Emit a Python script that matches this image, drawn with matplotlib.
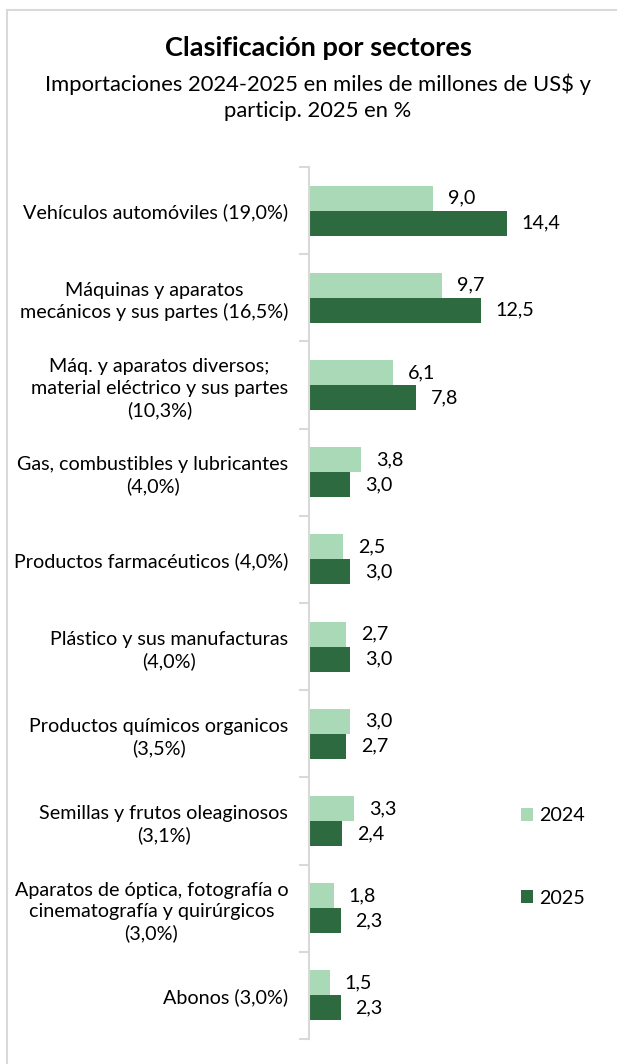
import matplotlib
matplotlib.use("Agg")
import matplotlib.pyplot as plt
import numpy as np
from matplotlib.patches import Rectangle

plt.rcParams["font.family"] = ["Lato", "DejaVu Sans"]

categories = [
    "Vehículos automóviles (19,0%)",
    "Máquinas y aparatos\nmecánicos y sus partes (16,5%)",
    "Máq. y aparatos diversos;\nmaterial eléctrico y sus partes\n(10,3%)",
    "Gas, combustibles y lubricantes\n(4,0%)",
    "Productos farmacéuticos (4,0%)",
    "Plástico y sus manufacturas\n(4,0%)",
    "Productos químicos organicos\n(3,5%)",
    "Semillas y frutos oleaginosos\n(3,1%)",
    "Aparatos de óptica, fotografía o\ncinematografía y quirúrgicos\n(3,0%)",
    "Abonos (3,0%)",
]
imp_2024 = [9.0, 9.7, 6.1, 3.8, 2.5, 2.7, 3.0, 3.3, 1.8, 1.5]
imp_2025 = [14.4, 12.5, 7.8, 3.0, 3.0, 3.0, 2.7, 2.4, 2.3, 2.3]

c_2024 = "#a9d9b7"
c_2025 = "#2e6a40"
axis_grey = "#d9d9d9"
fs = 14.2

W, H = 617, 1064
fig = plt.figure(figsize=(W / 100, H / 100), dpi=100)

# chart frame (only top/left edges visible in original)
fig.patches.append(Rectangle((7 / W, -0.1), 1.2, 1 - 10 / H + 0.1, transform=fig.transFigure,
                             fill=False, edgecolor="#d9d9d9", lw=1.5))

# axes placed in pixel terms
left, right = 309, 309 + 20 * 13.73
top, bottom = 167, 1039
ax = fig.add_axes([left / W, 1 - bottom / H, (right - left) / W, (bottom - top) / H])

n = len(categories)
y = np.arange(n)
h = 0.287
ax.barh(y - h / 2, imp_2024, height=h, color=c_2024, label="2024")
ax.barh(y + h / 2, imp_2025, height=h, color=c_2025, label="2025")

for yi, v in zip(y, imp_2024):
    ax.annotate(f"{v:.1f}".replace(".", ","), (v, yi - h / 2), xytext=(15, 0),
                textcoords="offset pixels", va="center", ha="left", fontsize=fs)
for yi, v in zip(y, imp_2025):
    ax.annotate(f"{v:.1f}".replace(".", ","), (v, yi + h / 2), xytext=(15, 0),
                textcoords="offset pixels", va="center", ha="left", fontsize=fs)

ax.set_xlim(0, 20)
ax.set_ylim(n - 0.5, -0.5)
ax.set_yticks(y)
ax.set_yticklabels(categories, fontsize=fs, linespacing=1.3)
for lbl in ax.get_yticklabels():
    lbl.set_multialignment("center")
ax.set_yticks(np.arange(-0.5, n, 1), minor=True)
ax.tick_params(axis="y", which="major", length=0, pad=15)
ax.tick_params(axis="y", which="minor", length=7, color=axis_grey, width=1.5)
ax.set_xticks([])
for s in ["top", "right", "bottom"]:
    ax.spines[s].set_visible(False)
ax.spines["left"].set_color(axis_grey)
ax.spines["left"].set_linewidth(1.5)

fig.legend(loc="center left", bbox_to_anchor=(503 / W, 1 - 857 / H), frameon=False,
           fontsize=fs, handlelength=0.6, handleheight=0.6, handletextpad=0.35,
           labelspacing=3.3)

fig.text(318 / W, 1 - 48 / H, "Clasificación por sectores", ha="center", va="center",
         fontsize=19.5, fontweight="bold")
fig.text(318 / W, 1 - 97 / H, "Importaciones 2024-2025 en miles de millones de US$ y\nparticip. 2025 en %",
         ha="center", va="center", fontsize=15.8, linespacing=1.35)

fig.savefig("out.png", dpi=100)
